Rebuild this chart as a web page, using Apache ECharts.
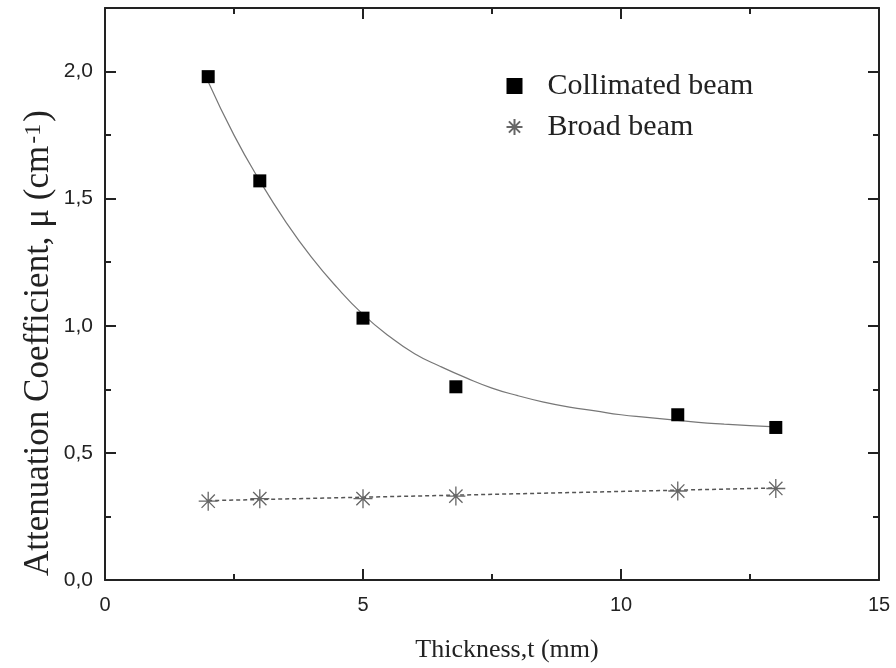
<!DOCTYPE html>
<html>
<head>
<meta charset="utf-8">
<script src="https://cdn.jsdelivr.net/npm/echarts@6/dist/echarts.min.js"></script>
<style>html,body{margin:0;padding:0;background:#fff}#c{width:896px;height:668px}</style>
</head>
<body>
<div id="c"></div>
<script>
const thickness = [2, 3, 5, 6.8, 11.1, 13];
const collimated = [1.98, 1.57, 1.03, 0.76, 0.65, 0.60];
const broad = [0.31, 0.32, 0.32, 0.33, 0.35, 0.36];
const fitX = [2, 2.5, 3, 3.5, 4, 4.5, 5, 5.5, 6, 6.5, 7, 7.5, 8, 8.5, 9, 9.5, 10, 10.5, 11, 11.5, 12, 12.5, 13];
const fitCollimated = [1.96, 1.75, 1.57, 1.41, 1.27, 1.15, 1.045, 0.96, 0.89, 0.84, 0.795, 0.755, 0.725, 0.70, 0.68, 0.665, 0.65, 0.64, 0.63, 0.62, 0.613, 0.607, 0.602];
const fitBroadX = [2, 13];
const fitBroad = [0.312, 0.362];
const xTicks = [0, 5, 10, 15];
const yTicks = [0, 0.5, 1.0, 1.5, 2.0];

const zip = (a, b) => a.map((v, i) => [v, b[i]]);
const asterisk = 'path://M0,-10 L0,10 M-10,0 L10,0 M-7,-7 L7,7 M-7,7 L7,-7';

const chart = echarts.init(document.getElementById('c'), null, {renderer: 'canvas'});
const axisCommon = () => ({
  axisLine: {show: true, onZero: false, lineStyle: {color: '#222', width: 2}},
  axisTick: {show: true, inside: true, length: 11, lineStyle: {color: '#222', width: 2}},
  minorTick: {show: true, splitNumber: 2, length: 6, lineStyle: {color: '#222', width: 2}},
  splitLine: {show: false}
});
chart.setOption({
  animation: false,
  backgroundColor: '#fff',
  grid: {left: 105, top: 8, right: 17, bottom: 88, containLabel: false},
  xAxis: [
    Object.assign({
      type: 'value', min: 0, max: 15, interval: 5,
      axisLabel: {fontFamily: 'Liberation Sans', fontSize: 20, color: '#222', margin: 15,
        formatter: v => xTicks.includes(v) ? String(v) : ''}
    }, axisCommon()),
    Object.assign({
      type: 'value', min: 0, max: 15, interval: 5, position: 'top',
      axisLabel: {show: false}
    }, axisCommon())
  ],
  yAxis: [
    Object.assign({
      type: 'value', min: 0, max: 2.25, interval: 0.5,
      axisLabel: {fontFamily: 'Liberation Sans', fontSize: 21, color: '#222', margin: 12,
        formatter: v => yTicks.some(t => Math.abs(t - v) < 1e-9) ? v.toFixed(1).replace('.', ',') : ''}
    }, axisCommon()),
    Object.assign({
      type: 'value', min: 0, max: 2.25, interval: 0.5, position: 'right',
      axisLabel: {show: false}
    }, axisCommon())
  ],
  graphic: [
    {
      type: 'text', x: 507, y: 650,
      style: {text: 'Thickness,t (mm)', fontFamily: 'Liberation Serif', fontSize: 26, fill: '#222',
        align: 'center', verticalAlign: 'middle'}
    },
    {
      type: 'text', x: 39, y: 343, rotation: Math.PI / 2,
      style: {
        text: '{a|Attenuation Coefficient, μ (cm}{s|-1}{a|)}',
        align: 'center', verticalAlign: 'middle',
        rich: {
          a: {fontFamily: 'Liberation Serif', fontSize: 35, fill: '#222', verticalAlign: 'bottom'},
          s: {fontFamily: 'Liberation Serif', fontSize: 24, fill: '#222', verticalAlign: 'top', padding: [0, 2, 0, 2]}
        }
      }
    }
  ],
  legend: {
    left: 499, top: 66, orient: 'vertical', itemGap: 11, itemWidth: 16, itemHeight: 16,
    data: ['Collimated beam', 'Broad beam'],
    textStyle: {fontFamily: 'Liberation Serif', fontSize: 30, color: '#222', padding: [0, 0, 0, 20]}
  },
  series: [
    {
      type: 'line', name: 'fitC', data: zip(fitX, fitCollimated), smooth: true, showSymbol: false,
      lineStyle: {color: '#777', width: 1.2}, silent: true, z: 1
    },
    {
      type: 'line', name: 'fitB', data: zip(fitBroadX, fitBroad), showSymbol: false,
      lineStyle: {color: '#555', width: 1.5, type: [4, 3]}, silent: true, z: 1
    },
    {
      type: 'scatter', name: 'Collimated beam', data: zip(thickness, collimated),
      symbol: 'rect', symbolSize: 13, itemStyle: {color: '#000', opacity: 1}, z: 3
    },
    {
      type: 'scatter', name: 'Broad beam', data: zip(thickness, broad),
      symbol: asterisk, symbolSize: 19,
      itemStyle: {color: 'none', borderColor: '#666', borderWidth: 1.3, opacity: 1}, z: 3
    }
  ]
});
</script>
</body>
</html>
